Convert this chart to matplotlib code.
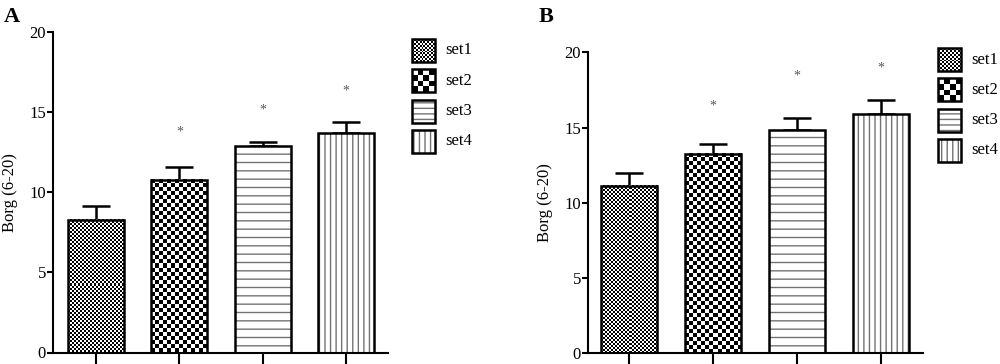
import numpy as np
import matplotlib
matplotlib.use('Agg')
import matplotlib.pyplot as plt
from matplotlib.patches import Rectangle

plt.rcParams['font.family'] = ['Liberation Serif', 'DejaVu Serif']
plt.rcParams['hatch.linewidth'] = 1.0

# ---------------- data ----------------
series = ['set1', 'set2', 'set3', 'set4']
means_A = [8.25, 10.75, 12.9, 13.7]
sem_A = [0.9, 0.85, 0.25, 0.7]
star_A = [None, 13.75, 15.1, 16.3]
means_B = [11.1, 13.25, 14.85, 15.9]
sem_B = [0.85, 0.65, 0.8, 0.95]
star_B = [None, 16.45, 18.45, 18.95]
yticks = [0, 5, 10, 15, 20]
ylabel = 'Borg (6-20)'
panel_labels = ['A', 'B']

# fill style per series: checkerboard (cell size px) or hatch
styles = [('check', 2.0), ('check', 4.0), ('hatch', '--'), ('hatch', '|||')]
legend_styles = [('check', 2.0), ('check', 5.5), ('hatch', '---'), ('hatch', '|||')]

W, H = 1000, 364
DPI = 100
fig = plt.figure(figsize=(W / DPI, H / DPI), dpi=DPI)


def checker(ax, x0, x1, y0, y1, cell_px, zorder):
    p0 = ax.transData.transform((x0, y0))
    p1 = ax.transData.transform((x1, y1))
    nx = max(1, int(round(abs(p1[0] - p0[0]) / cell_px)))
    ny = max(1, int(round(abs(p1[1] - p0[1]) / cell_px)))
    arr = (np.add.outer(np.arange(ny), np.arange(nx)) % 2).astype(float)
    ax.imshow(arr, extent=(x0, x1, y0, y1), cmap='gray', vmin=0, vmax=1,
              interpolation='nearest', aspect='auto', zorder=zorder,
              origin='lower')


def legend_box(px, py):
    # legend drawn in a pixel-unit axes; px,py = top-left of legend in pixels
    lw, lh = 90, 125
    lax = fig.add_axes([px / W, 1 - (py + lh) / H, lw / W, lh / H])
    lax.set_xlim(0, lw)
    lax.set_ylim(lh, 0)
    lax.axis('off')
    bw, bh, step = 23, 23, 30.3
    for i, (name, st) in enumerate(zip(series, legend_styles)):
        y0 = 2 + i * step
        if st[0] == 'check':
            checker(lax, 1, 1 + bw, y0 + bh, y0, st[1], 2)
        else:
            lax.add_patch(Rectangle((1, y0), bw, bh, facecolor='white',
                                    edgecolor='0.45', hatch=st[1],
                                    linewidth=0, zorder=2))
        lax.add_patch(Rectangle((1, y0), bw, bh, facecolor='none',
                                edgecolor='black', linewidth=1.8, zorder=3))
        lax.text(bw + 11, y0 + bh / 2, name, fontsize=12, va='center',
                 ha='left')
    lax.set_xlim(0, lw)
    lax.set_ylim(lh, 0)


def panel(rect, xlim, means, sems, stars, letter, letter_px, leg_px):
    ax = fig.add_axes(rect)
    x = np.arange(len(series))
    ax.set_xlim(*xlim)
    ax.set_ylim(0, 20)
    width = 0.67
    for i, (m, st) in enumerate(zip(means, styles)):
        if st[0] == 'hatch':
            ax.bar(x[i], m, width=width, facecolor='white', edgecolor='0.45',
                   hatch=st[1], linewidth=0, zorder=2)
        else:
            b = ax.bar(x[i], m, width=width, facecolor='white', linewidth=0,
                       zorder=2)[0]
            checker(ax, b.get_x(), b.get_x() + b.get_width(), 0, m, st[1], 2)
        ax.bar(x[i], m, width=width, facecolor='none', edgecolor='black',
               linewidth=1.8, zorder=3)
    ax.errorbar(x, means, yerr=[np.zeros(len(means)), sems], fmt='none',
                ecolor='black', elinewidth=1.8, capsize=10, capthick=1.8,
                zorder=1)
    for i, s in enumerate(stars):
        if s is not None:
            ax.text(x[i], s, '*', ha='center', va='center', fontsize=10,
                    color='0.35')
    ax.set_xlim(*xlim)
    ax.set_ylim(0, 20)
    ax.set_yticks(yticks)
    ax.set_xticks(x)
    ax.set_xticklabels([])
    for sp in ['top', 'right']:
        ax.spines[sp].set_visible(False)
    for sp in ['left', 'bottom']:
        ax.spines[sp].set_linewidth(1.5)
    ax.tick_params(axis='y', direction='out', length=4, width=1.5,
                   labelsize=12, pad=1)
    ax.tick_params(axis='x', direction='out', length=8, width=1.5)
    ax.set_ylabel(ylabel, fontsize=12, labelpad=8)
    fig.text(letter_px[0] / W, 1 - letter_px[1] / H, letter, fontsize=16,
             fontweight='bold', va='baseline', ha='left')
    legend_box(*leg_px)
    return ax


# panel A
panel([53 / W, 1 - 352.5 / H, 335 / W, 320.5 / H], (-0.515, 3.5),
      means_A, sem_A, star_A, panel_labels[0], (4, 22), (411, 37))
# panel B
panel([588 / W, 1 - 353.3 / H, 334.7 / W, 301 / H], (-0.49, 3.5),
      means_B, sem_B, star_B, panel_labels[1], (539, 22), (937, 46))

fig.savefig('out.png', dpi=DPI)
